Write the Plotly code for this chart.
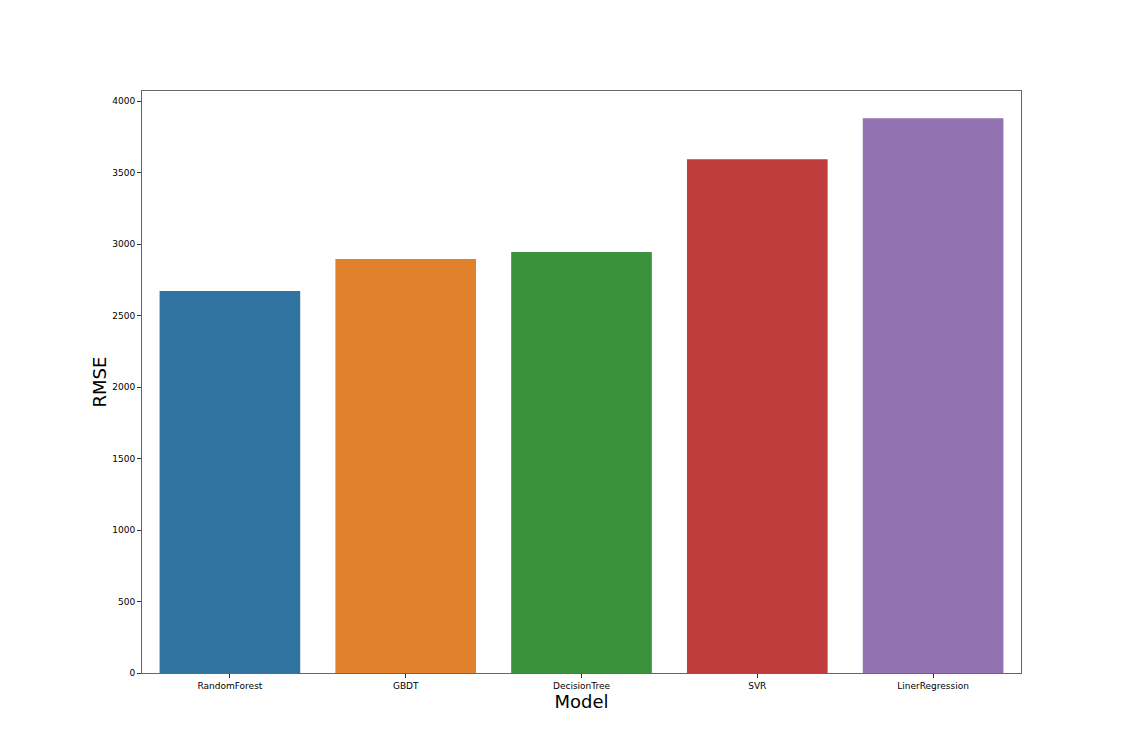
import plotly.graph_objects as go

models = ["RandomForest", "GBDT", "DecisionTree", "SVR", "LinerRegression"]
rmse = [2673, 2897, 2946, 3594, 3881]
colors = ["#3274a1", "#e1812c", "#3a923a", "#c03d3e", "#9372b2"]
y_ticks = [0, 500, 1000, 1500, 2000, 2500, 3000, 3500, 4000]

fig = go.Figure(go.Bar(x=models, y=rmse, marker=dict(color=colors, line=dict(width=0)), width=0.8))

axis_common = dict(
    showline=True, linecolor="#666666", linewidth=1, mirror=True,
    ticks="outside", ticklen=4, tickcolor="#333333", tickwidth=1,
    showgrid=False, zeroline=False,
    tickfont=dict(family="DejaVu Sans", size=9, color="#000000"),
)
fig.update_xaxes(title=dict(text="Model", font=dict(family="DejaVu Sans", size=18, color="#000000"), standoff=2),
                 range=[-0.5, 4.5], **axis_common)
fig.update_yaxes(title=dict(text="RMSE", font=dict(family="DejaVu Sans", size=18, color="#000000"), standoff=0),
                 range=[0, 4072], tickvals=y_ticks, ticktext=[str(v) for v in y_ticks], **axis_common)
fig.update_layout(
    width=1135, height=756,
    margin=dict(l=134, r=122, t=83, b=91),
    plot_bgcolor="white", paper_bgcolor="white",
    showlegend=False, bargap=0.2,
)
fig.write_html("out.html")
